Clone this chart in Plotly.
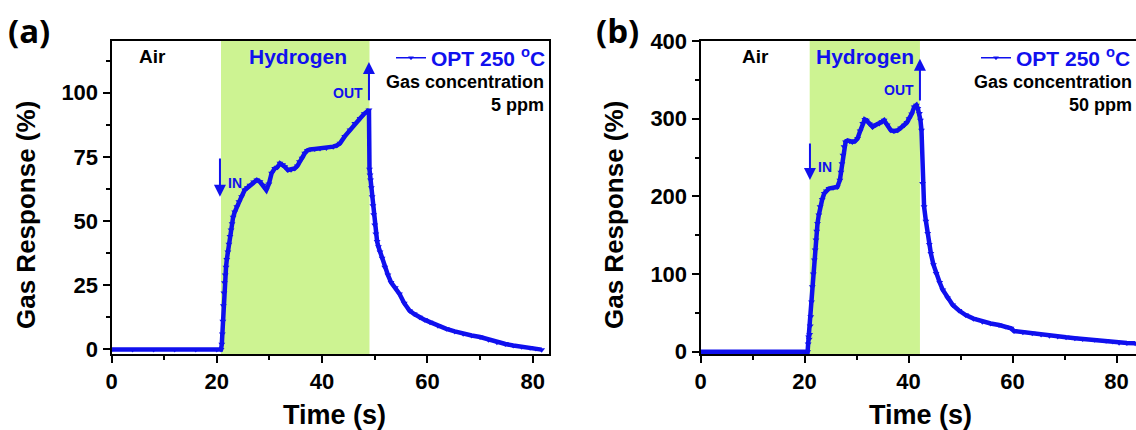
import plotly.graph_objects as go

W, H = 1136, 430
BLUE = "#1010ee"
GREEN = "#cdf392"
FONT = "Liberation Sans, Arial, sans-serif"

# ---- data: gas response of the OPT sensor at 250 °C ----
# (a) 5 ppm hydrogen
time_a = [0, 4, 8, 12, 16, 20, 20.8, 20.95, 21.05, 21.15, 21.25, 21.35, 21.45, 21.6, 21.75,
          21.9, 22.1, 22.3, 22.5, 22.7, 22.9, 23.1, 23.4, 23.8, 24.2, 24.7, 25.3, 25.8, 26.3,
          27.0, 27.6, 28.2, 28.8, 29.4, 29.9, 30.4, 31.0, 31.5, 32.0, 32.5, 32.9, 33.5, 34.1,
          34.8, 35.3, 35.7, 36.2, 36.7, 37.2, 37.7, 38.6, 39.6, 40.8, 42.1, 42.8, 43.4, 44.3,
          45.3, 46.2, 47.2, 48.0, 48.9, 49.0, 49.1, 49.2, 49.35, 49.5, 49.65, 49.8, 50.0, 50.2,
          50.45, 50.7, 51.0, 51.4, 51.9, 52.5, 53.1, 53.9, 54.7, 55.6, 56.6, 57.5, 58.5, 59.5,
          60.5, 62.0, 63.6, 65.2, 66.8, 68.4, 70.0, 71.6, 73.2, 74.8, 76.3, 77.9, 79.5, 80.6, 81.7]
response_a = [0, 0, 0, 0, 0, 0, 0, 2, 6, 11, 17, 22, 26, 29, 32,
              35, 38, 41, 44, 46.5, 49, 51.5, 53.5, 55.6, 57.5, 59.5, 62.1, 63, 64,
              65.2, 66, 65.3, 64, 62.1, 64.5, 68.6, 70.5, 71, 72.5, 72, 71.2, 69.9, 70,
              70.5, 71.5, 73.1, 74.5, 76.4, 77.5, 77.9, 78.1, 78.3, 78.5, 79, 79.5, 80.3, 83,
              85.5, 88, 90, 91.8, 93.3, 70.2, 68, 66, 63, 59.5, 56, 52.5, 48.5, 45,
              42, 40, 38, 35.5, 32, 29, 26.1, 24, 21.6, 18, 15.1, 13.8, 12.5, 11.5,
              10.6, 9.2, 8.0, 7.0, 6.1, 5.4, 4.8, 3.8, 2.8, 2.1, 1.5, 1.0, 0.6, 0.3, -0.1]

# (b) 50 ppm hydrogen
time_b = [0, 4, 8, 12, 16, 20, 20.6, 20.7, 20.8, 20.9, 21.0, 21.1, 21.2, 21.35, 21.5, 21.7,
          21.9, 22.05, 22.2, 22.35, 22.5, 22.75, 23.0, 23.4, 23.8, 24.2, 24.7, 25.5, 26.3,
          26.8, 27.0, 27.2, 27.4, 27.6, 27.9, 28.3, 28.7, 29.2, 29.7, 30.2, 30.7, 31.2, 31.6,
          31.9, 32.5, 33.1, 33.7, 34.4, 34.9, 35.3, 35.9, 36.6, 37.2, 37.9, 38.5, 39.2, 39.7,
          40.1, 40.6, 41.1, 41.5, 41.8, 42.1, 42.3, 42.5, 42.7, 43.0, 43.35, 43.7, 44.0, 44.3,
          44.8, 45.3, 46.0, 46.6, 47.5, 48.5, 49.7, 51.0, 52.5, 54.2, 55.8, 57.4, 58.6, 59.7,
          60.3, 62.0, 63.8, 65.5, 67.1, 68.7, 70.3, 72.0, 73.5, 75.8, 78.0, 79.3, 80.5, 82.0, 83.6]
response_b = [0, 0, 0, 0, 0, 0, 0, 10, 19, 16, 22, 33, 45, 64, 83.6, 100,
              118, 131, 143.7, 155, 165, 176, 186.5, 196, 203.7, 207, 210, 211, 212,
              220.8, 231, 242, 253, 263.7, 270, 272, 271, 270, 271, 274.5, 284, 293.7, 299,
              298, 293, 289.4, 292, 293.7, 296, 298, 292, 285, 284, 285, 288, 291.6, 295,
              300, 306, 315, 317.3, 313, 306.6, 298, 285, 216.6, 186.5, 168, 152, 138, 126.5,
              112, 100.8, 89, 79.4, 69, 60, 53, 47.2, 42.5, 38.6, 36.3, 34.3, 32.3, 30.1,
              26.6, 25, 23.7, 22.1, 20.6, 19.5, 18.5, 17.4, 16.3, 15.2, 14.1, 13, 11.6, 11.1, 10.8]

assert len(time_a) == len(response_a) and len(time_b) == len(response_b)

panel_labels = ["(a)", "(b)"]
concentrations = ["5 ppm", "50 ppm"]
gas_on = [20.8, 21.0]     # hydrogen switched in (s)
gas_off = [49.0, 42.2]    # hydrogen switched out (s)
in_arrow = [(20.6, 75, 59.5), (21.05, 270, 221)]      # x, tail y, head y
out_arrow = [(48.9, 96.5, 112), (42.2, 321.5, 377)]
x_ticks = [0, 20, 40, 60, 80]
y_ticks_a = [0, 25, 50, 75, 100]
y_ticks_b = [0, 100, 200, 300, 400]


def px(x):
    return x / W


def py(y):
    return 1 - y / H


fig = go.Figure()

series = [(time_a, response_a, "x", "y", "legend"), (time_b, response_b, "x2", "y2", "legend2")]
for t, r, xa, ya, lg in series:
    fig.add_trace(go.Scatter(
        x=t, y=r, xaxis=xa, yaxis=ya, mode="lines+markers",
        line=dict(color=BLUE, width=4.5),
        marker=dict(symbol="triangle-down", size=6, color=BLUE),
        showlegend=False, hoverinfo="skip"))
    # thin-line key shown in the legend
    fig.add_trace(go.Scatter(
        x=[None], y=[None], xaxis=xa, yaxis=ya, mode="lines+markers",
        name="OPT 250 <sup>o</sup>C", legend=lg,
        line=dict(color=BLUE, width=1.5),
        marker=dict(symbol="triangle-down", size=5, color=BLUE)))

tickfont = dict(family=FONT, size=22, color="black", weight="bold")
axis_common = dict(showline=True, linecolor="black", linewidth=2,
                   ticks="outside", ticklen=7, tickwidth=1.5, tickcolor="black",
                   showgrid=False, zeroline=False, tickfont=tickfont)

y_dom = [py(354), py(40.7)]
fig.update_layout(
    width=W, height=H, margin=dict(l=0, r=0, t=0, b=0, autoexpand=False),
    paper_bgcolor="white", plot_bgcolor="white",
    xaxis=dict(domain=[px(111.5), px(548.5)], range=[0, 83], anchor="y", mirror=True,
               tickmode="array", tickvals=x_ticks,
               minor=dict(ticks="outside", ticklen=4, tickwidth=1.5, tickcolor="black", dtick=10),
               **axis_common),
    yaxis=dict(domain=y_dom, range=[-1.8, 120.3], anchor="x", mirror=True,
               tickmode="array", tickvals=y_ticks_a,
               minor=dict(ticks="outside", ticklen=4, tickwidth=1.5, tickcolor="black",
                          tickvals=[12.5, 37.5, 62.5, 87.5, 112.5]),
               **axis_common),
    xaxis2=dict(domain=[px(700.5), 1.0], range=[0, 83.75], anchor="y2", mirror=True,
                tickmode="array", tickvals=x_ticks,
                minor=dict(ticks="outside", ticklen=4, tickwidth=1.5, tickcolor="black", dtick=10),
                **axis_common),
    yaxis2=dict(domain=y_dom, range=[-3, 400.4], anchor="x2", mirror=False,
                tickmode="array", tickvals=y_ticks_b,
                minor=dict(ticks="outside", ticklen=4, tickwidth=1.5, tickcolor="black",
                           tickvals=[50, 150, 250, 350]),
                **axis_common),
)

legend_style = dict(xanchor="right", yanchor="middle", bgcolor="rgba(0,0,0,0)",
                    borderwidth=0, font=dict(family=FONT, size=21, color=BLUE, weight="bold"))
fig.update_layout(
    legend=dict(x=px(551), y=py(58), **legend_style),
    legend2=dict(x=1.0, y=py(58), **legend_style),
)

# hydrogen exposure windows
for i, (xr, yr) in enumerate([("x", "y domain"), ("x2", "y2 domain")]):
    fig.add_shape(type="rect", xref=xr, yref=yr, x0=gas_on[i], x1=gas_off[i], y0=0, y1=1,
                  fillcolor=GREEN, line=dict(width=0), layer="below")


def text(x, y, s, size, color="black", xanchor="center", angle=0, family=FONT):
    fig.add_annotation(x=px(x), y=py(y), xref="paper", yref="paper", text=s, showarrow=False,
                       xanchor=xanchor, yanchor="middle", textangle=angle,
                       font=dict(family=family, size=size, color=color, weight="bold"))


panel_px = [dict(lab=29, air=153, hyd=298, right=546, ytitle=26, xtitle=334, in_x=226, out_x=365,
                 in_y=183, out_y=93),
            dict(lab=617, air=755, hyd=865, right=1134, ytitle=614, xtitle=920, in_x=816, out_x=916,
                 in_y=167, out_y=90)]

for i, p in enumerate(panel_px):
    text(p["lab"], 31, panel_labels[i], 33, family="Open Sans, Liberation Sans, sans-serif")
    text(p["air"], 57, "Air", 19)
    text(p["hyd"], 56, "Hydrogen", 21, color=BLUE)
    text(p["right"], 82, "Gas concentration", 18, xanchor="right")
    text(p["right"], 105, concentrations[i], 18, xanchor="right")
    text(p["in_x"], p["in_y"], "IN", 14, color=BLUE, xanchor="left")
    text(p["out_x"], p["out_y"], "OUT", 14, color=BLUE, xanchor="right")
    text(p["ytitle"], 215, "Gas Response (%)", 26, angle=-90)
    text(p["xtitle"], 415, "Time (s)", 27)

for i, (xr, yr) in enumerate([("x", "y"), ("x2", "y2")]):
    for ax_x, tail, head in (in_arrow[i], out_arrow[i]):
        fig.add_annotation(x=ax_x, y=head, ax=ax_x, ay=tail, xref=xr, yref=yr, axref=xr, ayref=yr,
                           text="", showarrow=True, arrowhead=2, arrowsize=1.2, arrowwidth=2,
                           arrowcolor=BLUE)

fig.write_html("out.html")
